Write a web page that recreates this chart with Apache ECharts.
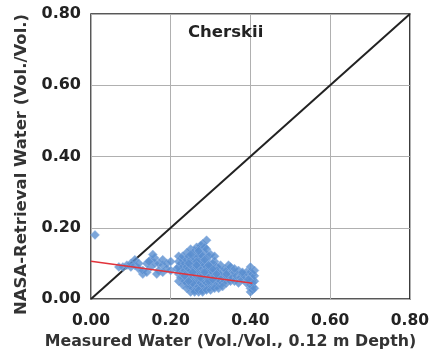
<!DOCTYPE html>
<html><head><meta charset="utf-8">
<script src="https://cdn.jsdelivr.net/npm/echarts@6/dist/echarts.min.js"></script>
<style>html,body{margin:0;padding:0;background:#fff}#c{width:432px;height:355px}</style>
</head><body><div id="c"></div>
<script>
var titleText = "Cherskii";
var xAxisName = "Measured Water (Vol./Vol., 0.12 m Depth)";
var yAxisName = "NASA-Retrieval Water (Vol./Vol.)";
var measured = [
0.01,
0.07,0.08,0.09,0.10,0.10,0.11,0.11,0.12,0.12,0.13,0.13,0.14,0.14,0.15,0.15,0.16,0.16,0.155,0.17,0.17,0.18,0.18,0.19,0.20,0.20,0.18,0.19,0.165,0.145,
0.22,0.22,0.22,0.22,0.22,0.225,0.225,0.225,
0.23,0.23,0.23,0.23,0.23,0.23,0.235,0.235,0.235,
0.24,0.24,0.24,0.24,0.24,0.24,0.24,0.245,0.245,0.245,0.245,
0.25,0.25,0.25,0.25,0.25,0.25,0.25,0.25,0.255,0.255,0.255,0.255,0.255,
0.26,0.26,0.26,0.26,0.26,0.26,0.26,0.26,0.265,0.265,0.265,0.265,0.265,0.265,
0.27,0.27,0.27,0.27,0.27,0.27,0.27,0.27,0.27,0.275,0.275,0.275,0.275,0.275,0.275,
0.28,0.28,0.28,0.28,0.28,0.28,0.28,0.28,0.285,0.285,0.285,0.285,0.285,0.285,0.285,
0.29,0.29,0.29,0.29,0.29,0.29,0.29,0.295,0.295,0.295,0.295,0.295,
0.30,0.30,0.30,0.30,0.30,0.30,0.305,0.305,0.305,0.305,
0.31,0.31,0.31,0.31,0.31,0.315,0.315,0.315,
0.32,0.32,0.32,0.32,0.325,0.325,0.325,
0.33,0.33,0.33,0.335,0.335,0.34,0.34,0.34,0.345,0.345,
0.35,0.35,0.35,0.355,0.36,0.36,0.365,0.37,0.37,0.375,0.38,0.38,0.385,0.39,0.39,
0.40,0.40,0.40,0.40,0.40,0.40,0.40,0.405,0.405,0.405,0.405,0.405,0.41,0.41,0.41,0.41,
0.215,0.235,0.245,0.255,0.265,0.275,0.285,0.295,0.305,0.315,0.245,0.255,0.265,0.275,0.285,0.295,0.305,0.26,0.27,0.28,0.29,0.30,0.31,0.32,0.33,0.25,0.27,0.29,0.31,0.34,0.36,0.38,0.395
];
var retrieval = [
0.18,
0.09,0.09,0.095,0.09,0.10,0.095,0.11,0.085,0.10,0.07,0.08,0.075,0.10,0.09,0.11,0.10,0.115,0.125,0.10,0.08,0.095,0.11,0.10,0.105,0.08,0.075,0.085,0.07,0.105,
0.05,0.07,0.09,0.105,0.12,0.06,0.08,0.10,
0.04,0.06,0.07,0.09,0.11,0.12,0.05,0.08,0.10,
0.03,0.045,0.06,0.075,0.09,0.11,0.13,0.035,0.065,0.085,0.12,
0.02,0.035,0.05,0.065,0.08,0.095,0.11,0.14,0.03,0.06,0.09,0.105,0.125,
0.025,0.04,0.055,0.07,0.085,0.10,0.115,0.135,0.03,0.05,0.075,0.09,0.12,0.145,
0.02,0.035,0.05,0.06,0.075,0.09,0.105,0.12,0.14,0.03,0.045,0.07,0.095,0.11,0.15,
0.025,0.04,0.055,0.07,0.085,0.10,0.12,0.155,0.035,0.05,0.065,0.08,0.095,0.13,0.145,
0.03,0.045,0.06,0.075,0.09,0.11,0.165,0.04,0.055,0.07,0.085,0.12,
0.035,0.05,0.065,0.08,0.095,0.125,0.045,0.06,0.075,0.10,
0.035,0.05,0.065,0.08,0.105,0.04,0.06,0.09,
0.04,0.055,0.07,0.085,0.05,0.065,0.095,
0.045,0.06,0.075,0.05,0.085,0.045,0.065,0.08,0.055,0.095,
0.05,0.07,0.09,0.06,0.05,0.075,0.065,0.045,0.08,0.06,0.055,0.07,0.065,0.045,0.075,
0.02,0.03,0.04,0.05,0.06,0.075,0.09,0.025,0.035,0.045,0.055,0.07,0.03,0.05,0.065,0.08,
0.085,0.065,0.10,0.045,0.105,0.06,0.11,0.05,0.085,0.07,0.05,0.075,0.095,0.125,0.075,0.095,0.055,0.02,0.025,0.02,0.025,0.025,0.03,0.03,0.035,0.125,0.135,0.14,0.12,0.07,0.085,0.075,0.055
];
var fitX = [0.0, 0.405];
var fitY = [0.106, 0.044];
var oneToOne = [0, 0.8];

var pts = measured.map(function(x,i){return [x, retrieval[i]];});
var chart = echarts.init(document.getElementById('c'), null, {renderer:'canvas'});
var font = '"DejaVu Sans", sans-serif';
chart.setOption({
  animation:false,
  title:{text:titleText,left:183,top:19,textStyle:{fontFamily:font,fontWeight:'bold',fontSize:16.5,color:'#222'}},
  grid:{left:91,right:19,top:14,bottom:53,show:true,borderColor:'#222',borderWidth:1.5},
  xAxis:{type:'value',min:0,max:0.8,interval:0.2,
    name:xAxisName,nameLocation:'middle',nameGap:35,
    nameTextStyle:{fontFamily:font,fontWeight:'bold',fontSize:15.8,color:'#333',padding:[0,40,0,0]},
    axisLine:{show:false},axisTick:{show:false},
    axisLabel:{fontFamily:font,fontWeight:'bold',fontSize:15.5,color:'#222',margin:14,formatter:function(v){return v.toFixed(2);}},
    splitLine:{show:true,lineStyle:{color:'#b0b0b0',width:1}}},
  yAxis:{type:'value',min:0,max:0.8,interval:0.2,
    name:yAxisName,nameLocation:'middle',nameGap:60,
    nameTextStyle:{fontFamily:font,fontWeight:'bold',fontSize:16.5,color:'#333',padding:[0,16,0,0]},
    axisLine:{show:false},axisTick:{show:false},
    axisLabel:{fontFamily:font,fontWeight:'bold',fontSize:16,color:'#222',margin:10,formatter:function(v){return v.toFixed(2);}},
    splitLine:{show:true,lineStyle:{color:'#b0b0b0',width:1}}},
  series:[
    {type:'line',data:[[oneToOne[0],oneToOne[0]],[oneToOne[1],oneToOne[1]]],symbol:'none',lineStyle:{color:'#222',width:2},z:1},
    {type:'scatter',data:pts,symbol:'diamond',symbolSize:9,itemStyle:{color:'#5a8ed0',borderColor:'#8db2e2',borderWidth:0.6},z:2},
    {type:'line',data:[[fitX[0],fitY[0]],[fitX[1],fitY[1]]],symbol:'none',lineStyle:{color:'#e2333b',width:1.6},z:3}
  ]
});
</script></body></html>
